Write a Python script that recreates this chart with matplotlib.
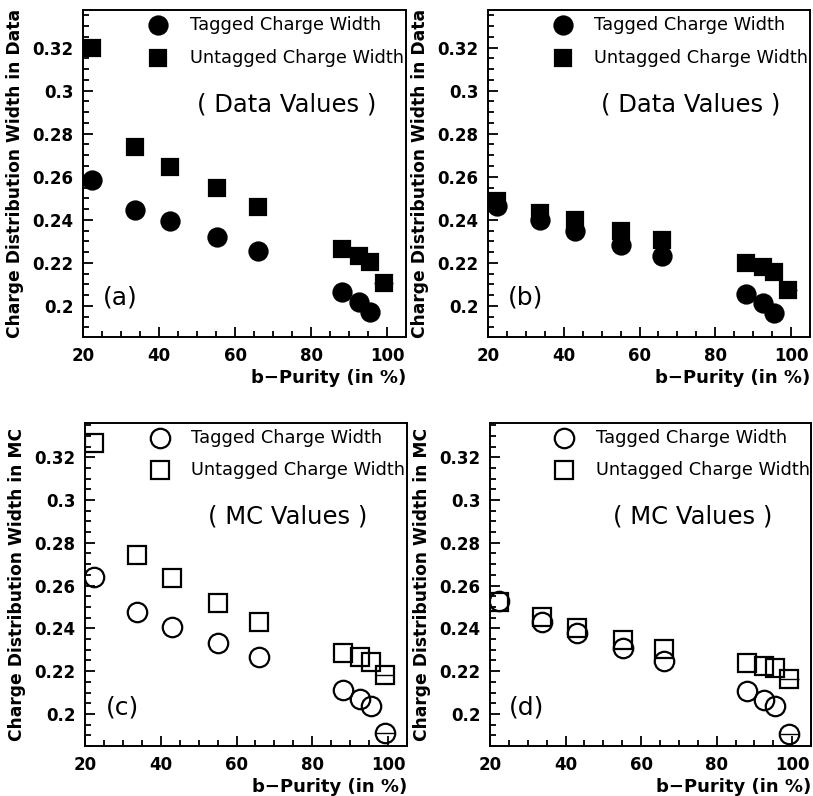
import numpy as np
from matplotlib import pyplot as plt
from matplotlib.ticker import MultipleLocator, FormatStrFormatter

# b-purity points (in %)
purity = [22.3, 33.8, 43.0, 55.2, 66.0, 88.1, 92.5, 95.4, 99.2]
purity_err = [0, 0, 0, 0, 0, 0, 0, 0, 2.5]

# (a) data values, first selection
data_a_tagged = [0.2585, 0.2446, 0.2395, 0.2320, 0.2255, 0.2062, 0.2019, 0.1970]
data_a_untagged = [0.3200, 0.2740, 0.2647, 0.2550, 0.2461, 0.2263, 0.2232, 0.2206, 0.2108]

# (b) data values, second selection
data_b_tagged = [0.2462, 0.2400, 0.2346, 0.2285, 0.2231, 0.2057, 0.2015, 0.1966]
data_b_untagged = [0.2489, 0.2431, 0.2400, 0.2349, 0.2308, 0.2200, 0.2182, 0.2158, 0.2074]

# (c) MC values, first selection
mc_c_tagged = [0.2642, 0.2475, 0.2408, 0.2333, 0.2265, 0.2112, 0.2069, 0.2037, 0.1910]
mc_c_untagged = [0.3265, 0.2743, 0.2637, 0.2517, 0.2429, 0.2284, 0.2265, 0.2242, 0.2182]

# (d) MC values, second selection
mc_d_tagged = [0.2529, 0.2432, 0.2378, 0.2308, 0.2246, 0.2109, 0.2065, 0.2036, 0.1907]
mc_d_untagged = [0.2521, 0.2451, 0.2404, 0.2345, 0.2303, 0.2238, 0.2222, 0.2213, 0.2163]

plt.rcParams['font.family'] = 'DejaVu Sans'


def draw_panel(ax, tagged, untagged, filled, ylabel, note, tag, ylim):
    fc = 'black' if filled else 'none'
    ms_c = 13 if filled else 14
    ms_s = 12 if filled else 13
    n_t = len(tagged)
    ax.errorbar(purity[:n_t], tagged, xerr=purity_err[:n_t], fmt='o', ms=ms_c,
                mfc=fc, mec='black', mew=1.6, ecolor='black', elinewidth=1.0, capsize=0)
    ax.errorbar(purity, untagged, xerr=purity_err, fmt='s', ms=ms_s,
                mfc=fc, mec='black', mew=1.6, ecolor='black', elinewidth=1.0, capsize=0)

    # legend drawn by hand like the original
    ax.plot([0.232], [0.955], 'o', ms=ms_c, mfc=fc, mec='black', mew=1.6,
            transform=ax.transAxes, clip_on=False)
    ax.plot([0.232], [0.853], 's', ms=ms_s, mfc=fc, mec='black', mew=1.6,
            transform=ax.transAxes, clip_on=False)
    ax.text(0.33, 0.955, 'Tagged Charge Width', transform=ax.transAxes,
            fontsize=12.8, va='center', ha='left')
    ax.text(0.33, 0.853, 'Untagged Charge Width', transform=ax.transAxes,
            fontsize=12.8, va='center', ha='left')
    ax.text(0.63, 0.71, note, transform=ax.transAxes, fontsize=17.5, va='center', ha='center')
    ax.text(0.115, 0.12, tag, transform=ax.transAxes, fontsize=18, va='center', ha='center')

    ax.set_xlim(20, 105)
    ax.set_ylim(*ylim)
    ax.xaxis.set_major_locator(MultipleLocator(20))
    ax.xaxis.set_minor_locator(MultipleLocator(5))
    ax.yaxis.set_major_locator(MultipleLocator(0.02))
    ax.yaxis.set_minor_locator(MultipleLocator(0.005))
    ax.yaxis.set_major_formatter(FormatStrFormatter('%g'))
    ax.tick_params(which='both', direction='in', top=False, right=False, width=1.3)
    ax.tick_params(which='major', length=7.5, labelsize=12, pad=7)
    ax.tick_params(which='minor', length=4)
    for lab in ax.get_xticklabels() + ax.get_yticklabels():
        lab.set_fontweight('bold')
    for sp in ax.spines.values():
        sp.set_linewidth(1.4)

    ax.set_ylabel(ylabel, fontsize=12.3, fontweight='bold', labelpad=6)
    ax.set_xlabel('b\u2212Purity (in %)', fontsize=13, fontweight='bold', loc='right', labelpad=3)


fig = plt.figure(figsize=(8.13, 7.96), dpi=100)
ax_a = fig.add_axes([0.1021, 0.5766, 0.3973, 0.4108])
ax_b = fig.add_axes([0.6003, 0.5766, 0.3960, 0.4108])
ax_c = fig.add_axes([0.1046, 0.0628, 0.3960, 0.4058])
ax_d = fig.add_axes([0.6027, 0.0628, 0.3950, 0.4058])

draw_panel(ax_a, data_a_tagged, data_a_untagged, True,
           'Charge Distribution Width in Data', '( Data Values )', '(a)', (0.1855, 0.3375))
draw_panel(ax_b, data_b_tagged, data_b_untagged, True,
           'Charge Distribution Width in Data', '( Data Values )', '(b)', (0.1855, 0.3375))
draw_panel(ax_c, mc_c_tagged, mc_c_untagged, False,
           'Charge Distribution Width in MC', '( MC Values )', '(c)', (0.185, 0.336))
draw_panel(ax_d, mc_d_tagged, mc_d_untagged, False,
           'Charge Distribution Width in MC', '( MC Values )', '(d)', (0.185, 0.336))

plt.savefig('out.png', dpi=100)
